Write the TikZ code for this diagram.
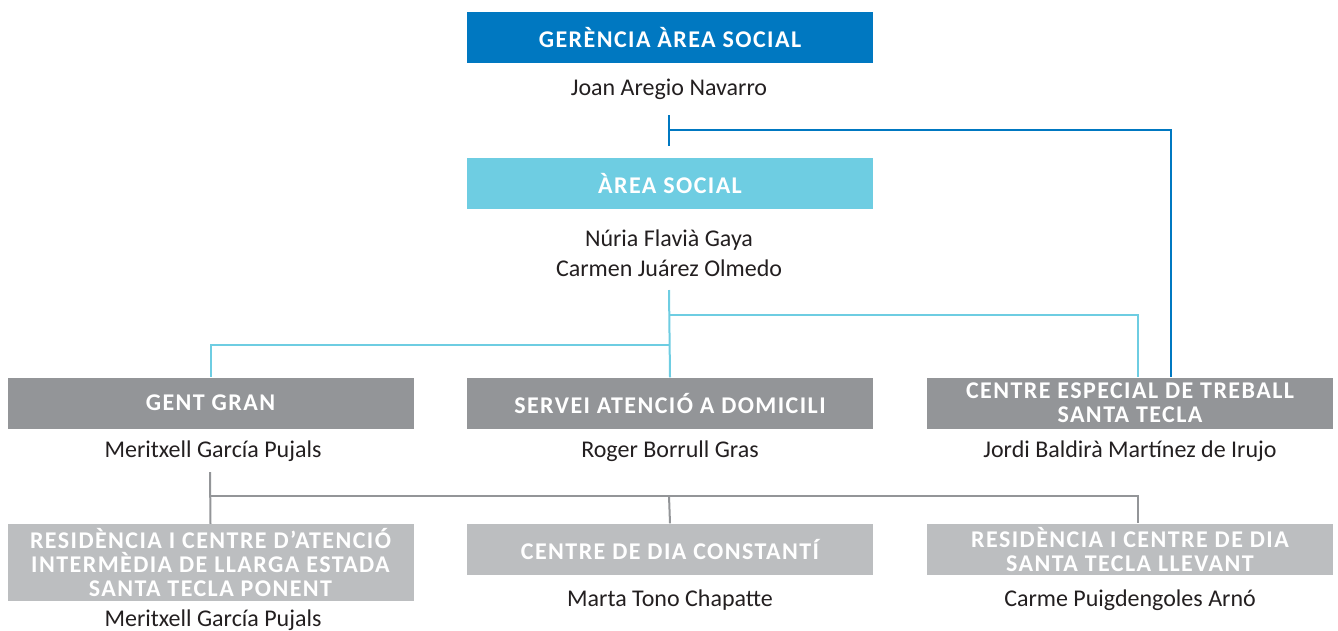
\documentclass[tikz,border=0pt]{standalone}
\usepackage{fontspec}
\setmainfont{Carlito}
\newfontfamily\headfont[LetterSpace=6]{Carlito}
\usepackage{xcolor}
\usepackage{tikz}
\definecolor{darkblue}{RGB}{0,120,193}
\definecolor{lightblue}{RGB}{110,205,226}
\definecolor{darkgrey}{RGB}{147,149,152}
\definecolor{lightgrey}{RGB}{188,190,192}
\definecolor{nametext}{RGB}{35,31,32}

\begin{document}
\begin{tikzpicture}[
    x=1pt, y=-1pt,
    head/.style={rectangle, minimum width=406pt, minimum height=51pt, inner sep=0pt, text=white, align=center, font=\headfont\bfseries\fontsize{24}{24}\selectfont},
    person/.style={text=nametext, align=center, inner sep=0pt, font=\fontsize{24}{30}\selectfont},
    link/.style={line width=2pt}
]
\useasboundingbox (0,0) rectangle (1338,630);

% Nodes
\node[head, fill=darkblue] (gerencia) at (670,37.5) {GERÈNCIA ÀREA SOCIAL};
\node[person] (gerName) at (669,89) {Joan Aregio Navarro};
\node[head, fill=lightblue] (social) at (670,183.5) {ÀREA SOCIAL};
\node[person] (socName) at (669,253) {Núria Flavià Gaya\\Carmen Juárez Olmedo};

\node[head, fill=darkgrey] (gent) at (210.5,403) {GENT GRAN};
\node[person] (gentName) at (213,451) {Meritxell García Pujals};
\node[head, fill=darkgrey] (servei) at (670,403) {SERVEI ATENCIÓ A DOMICILI};
\node[person] (serveiName) at (670,451) {Roger Borrull Gras};
\node[head, fill=darkgrey] (cet) at (1130,403) {CENTRE ESPECIAL DE TREBALL\\SANTA TECLA};
\node[person] (cetName) at (1130,451) {Jordi Baldirà Martínez de Irujo};

\node[head, fill=lightgrey, minimum height=77pt] (ponent) at (210.5,562.5) {RESIDÈNCIA I CENTRE D’ATENCIÓ\\INTERMÈDIA DE LLARGA ESTADA\\SANTA TECLA PONENT};
\node[person] (ponentName) at (213,620) {Meritxell García Pujals};
\node[head, fill=lightgrey] (constanti) at (670,549) {CENTRE DE DIA CONSTANTÍ};
\node[person] (constantiName) at (670,600) {Marta Tono Chapatte};
\node[head, fill=lightgrey] (llevant) at (1130,549) {RESIDÈNCIA I CENTRE DE DIA\\SANTA TECLA LLEVANT};
\node[person] (llevantName) at (1130,600) {Carme Puigdengoles Arnó};

% Lines
\coordinate (gerDown) at (669,115);
\coordinate (gerCorner) at (1171,130);
\draw[link, darkblue, line width=2.5pt] (gerDown) -- (669,146);
\draw[link, darkblue, line width=2.5pt] (669,130) -- (gerCorner) -- (gerCorner |- cet.north);

\coordinate (socDown) at (669,290);
\draw[link, lightblue] (socDown) -- (servei.north);
\draw[link, lightblue] (669,315) -| ([xshift=8pt]cet.north);
\draw[link, lightblue] (669,345) -| (gent.north);

\coordinate (gentDown) at (210,472);
\draw[link, darkgrey] (gentDown) -- (ponent.north);
\draw[link, darkgrey] (210,496) -| ([xshift=8pt]llevant.north);
\draw[link, darkgrey] (669,496) -- (constanti.north);

\end{tikzpicture}
\end{document}
